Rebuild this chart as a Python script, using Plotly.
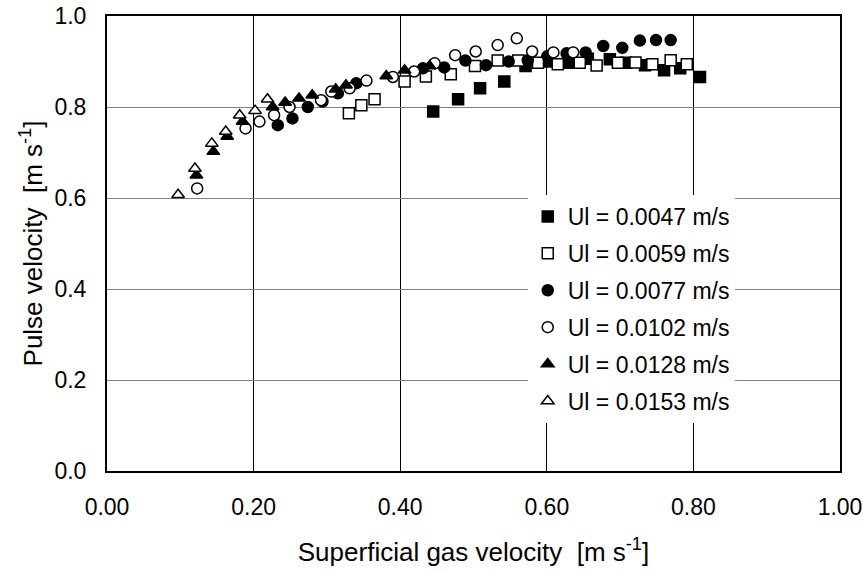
import plotly.graph_objects as go

# Ul = 0.0047 m/s (filled squares)
x_0047 = [0.445, 0.479, 0.509, 0.542, 0.571, 0.601, 0.629, 0.656, 0.686, 0.708, 0.734, 0.760, 0.782, 0.809]
y_0047 = [0.790, 0.817, 0.841, 0.856, 0.890, 0.900, 0.897, 0.906, 0.905, 0.897, 0.892, 0.881, 0.885, 0.866]
# Ul = 0.0059 m/s (open squares)
x_0059 = [0.330, 0.347, 0.365, 0.406, 0.435, 0.469, 0.502, 0.533, 0.561, 0.588, 0.615, 0.645, 0.668, 0.697, 0.721, 0.744, 0.769, 0.791]
y_0059 = [0.786, 0.804, 0.817, 0.856, 0.867, 0.872, 0.890, 0.902, 0.902, 0.897, 0.894, 0.897, 0.891, 0.897, 0.898, 0.894, 0.903, 0.894]
# Ul = 0.0077 m/s (filled circles)
x_0077 = [0.233, 0.253, 0.274, 0.294, 0.315, 0.340, 0.431, 0.460, 0.489, 0.517, 0.548, 0.574, 0.601, 0.627, 0.653, 0.677, 0.703, 0.727, 0.749, 0.769]
y_0077 = [0.760, 0.775, 0.800, 0.812, 0.830, 0.852, 0.885, 0.887, 0.902, 0.892, 0.900, 0.903, 0.912, 0.918, 0.920, 0.934, 0.930, 0.946, 0.947, 0.947]
# Ul = 0.0102 m/s (open circles)
x_0102 = [0.123, 0.189, 0.208, 0.228, 0.249, 0.292, 0.306, 0.331, 0.354, 0.390, 0.419, 0.447, 0.475, 0.503, 0.533, 0.559, 0.580, 0.609, 0.636]
y_0102 = [0.621, 0.753, 0.768, 0.782, 0.800, 0.815, 0.834, 0.841, 0.858, 0.866, 0.878, 0.896, 0.914, 0.922, 0.936, 0.951, 0.922, 0.920, 0.920]
# Ul = 0.0128 m/s (filled triangles)
x_0128 = [0.122, 0.145, 0.164, 0.185, 0.226, 0.243, 0.262, 0.280, 0.312, 0.326, 0.381, 0.406, 0.440]
y_0128 = [0.650, 0.702, 0.735, 0.768, 0.800, 0.810, 0.819, 0.826, 0.839, 0.848, 0.868, 0.881, 0.890]
# Ul = 0.0153 m/s (open triangles)
x_0153 = [0.097, 0.120, 0.143, 0.162, 0.181, 0.202, 0.219]
y_0153 = [0.607, 0.665, 0.720, 0.746, 0.782, 0.792, 0.817]

series = [
    ("Ul = 0.0047 m/s", x_0047, y_0047, "square", "black"),
    ("Ul = 0.0059 m/s", x_0059, y_0059, "square", "white"),
    ("Ul = 0.0077 m/s", x_0077, y_0077, "circle", "black"),
    ("Ul = 0.0102 m/s", x_0102, y_0102, "circle", "white"),
    ("Ul = 0.0128 m/s", x_0128, y_0128, "triangle-up", "black"),
    ("Ul = 0.0153 m/s", x_0153, y_0153, "triangle-up", "white"),
]

fig = go.Figure()
for i, (name, xs, ys, sym, fill) in enumerate(series):
    fig.add_trace(go.Scatter(
        x=xs, y=ys, mode="markers", name=name, legendgroup=f"g{i}",
        marker=dict(symbol=sym, size=11, color=fill,
                    line=dict(color="black", width=1.5)),
    ))

font = "Liberation Sans, Arial, sans-serif"

fig.update_layout(
    width=867, height=571,
    margin=dict(l=107, r=27, t=16, b=100),
    paper_bgcolor="white", plot_bgcolor="white",
    font=dict(family=font, size=23, color="black"),
    showlegend=True,
    legend=dict(
        x=0.574, y=0.6066, xanchor="left", yanchor="top",
        bgcolor="white", borderwidth=0,
        font=dict(family=font, size=23, color="black"),
        tracegroupgap=4, traceorder="grouped",
    ),
    xaxis=dict(
        range=[0, 1.0], tickvals=[0, 0.2, 0.4, 0.6, 0.8, 1.0],
        tickformat=".2f", showgrid=True, gridcolor="black", gridwidth=1,
        showline=True, linecolor="black", linewidth=2, mirror=True,
        zeroline=False, ticks="", automargin=False,
        ticklabelstandoff=14,
        tickfont=dict(family=font, size=23),
        title=dict(text="Superficial gas velocity  [m s<sup>-1</sup>]",
                   font=dict(family=font, size=26), standoff=24),
    ),
    yaxis=dict(
        range=[0, 1.0], tickvals=[0, 0.2, 0.4, 0.6, 0.8, 1.0],
        tickformat=".1f", showgrid=True, gridcolor="#808080", gridwidth=1,
        showline=True, linecolor="black", linewidth=2, mirror=True,
        zeroline=False, ticks="", automargin=False,
        ticklabelstandoff=14,
        tickfont=dict(family=font, size=23),
        title=dict(text="Pulse velocity  [m s<sup>-1</sup>]",
                   font=dict(family=font, size=26), standoff=4),
    ),
)

fig.write_html("out.html",
               config={"displayModeBar": False},
               post_script="document.body.style.margin='0';document.body.style.overflow='hidden';")
